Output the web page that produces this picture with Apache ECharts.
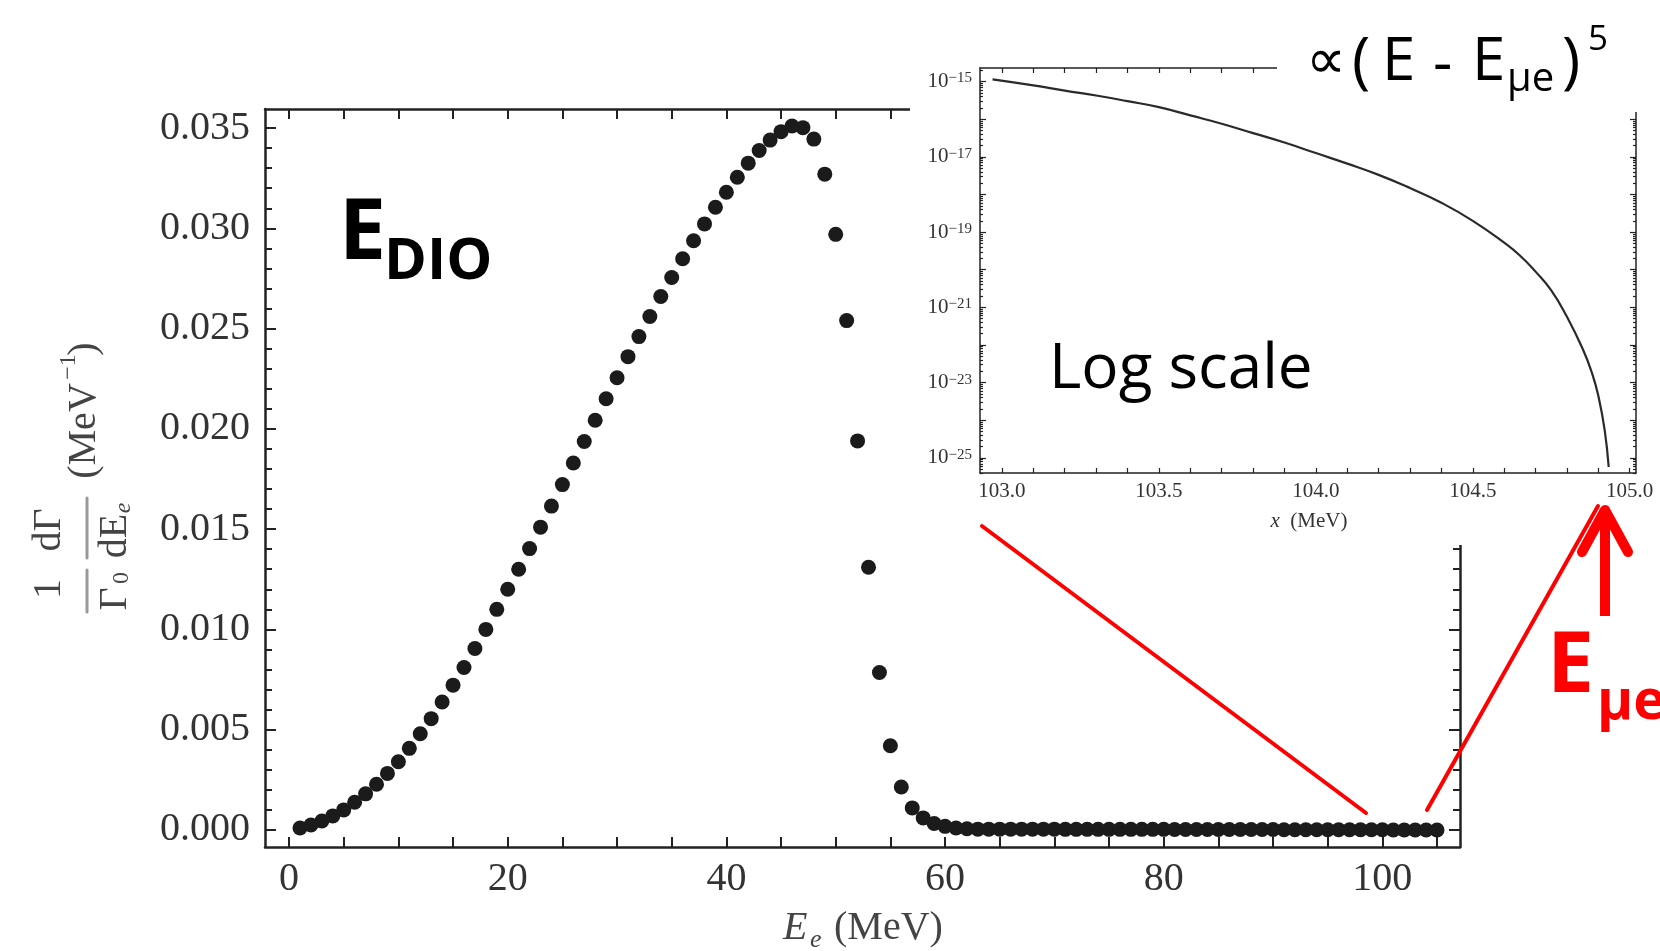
<!DOCTYPE html>
<html>
<head>
<meta charset="utf-8">
<title>DIO spectrum</title>
<script src="https://cdn.jsdelivr.net/npm/echarts@6.0.0/dist/echarts.min.js"></script>
<style>
  html, body { margin: 0; padding: 0; background: #fff; }
  #chart { width: 1660px; height: 951px; }
</style>
</head>
<body>
<div id="chart"></div>
<script>
// ---- main plot: electron energy (MeV) vs 1/Γ0 dΓ/dE (MeV^-1) ----
var energy = [
  1, 2, 3, 4, 5, 6, 7, 8, 9, 10, 11, 12, 13, 14, 15, 16, 17, 18, 19, 20,
  21, 22, 23, 24, 25, 26, 27, 28, 29, 30, 31, 32, 33, 34, 35, 36, 37, 38, 39, 40,
  41, 42, 43, 44, 45, 46, 47, 48, 49, 50, 51, 52, 53, 54, 55, 56, 57, 58, 59, 60,
  61, 62, 63, 64, 65, 66, 67, 68, 69, 70, 71, 72, 73, 74, 75, 76, 77, 78, 79, 80,
  81, 82, 83, 84, 85, 86, 87, 88, 89, 90, 91, 92, 93, 94, 95, 96, 97, 98, 99, 100,
  101, 102, 103, 104, 105
];
var rate = [
  0.00010, 0.00025, 0.00045, 0.00070, 0.00100, 0.00138, 0.00180, 0.00228, 0.00282, 0.00340,
  0.00407, 0.00480, 0.00555, 0.00638, 0.00722, 0.00810, 0.00905, 0.01000, 0.01100, 0.01200,
  0.01300, 0.01403, 0.01510, 0.01615, 0.01722, 0.01830, 0.01937, 0.02043, 0.02150, 0.02255,
  0.02360, 0.02460, 0.02560, 0.02660, 0.02755, 0.02848, 0.02938, 0.03022, 0.03105, 0.03180,
  0.03255, 0.03325, 0.03388, 0.03440, 0.03482, 0.03510, 0.03502, 0.03445, 0.03270, 0.02970,
  0.02540, 0.01940, 0.01310, 0.00785, 0.00420, 0.00214, 0.00110, 0.00060, 0.00032, 0.00018,
  0.00010, 0.00006, 0.00004, 0.00004, 0.00004, 0.00004, 0.00004, 0.00004, 0.00004, 0.00004,
  0.00003, 0.00003, 0.00003, 0.00003, 0.00003, 0.00003, 0.00003, 0.00003, 0.00003, 0.00003,
  0.00002, 0.00002, 0.00002, 0.00002, 0.00002, 0.00002, 0.00002, 0.00002, 0.00002, 0.00002,
  0.00001, 0.00001, 0.00001, 0.00001, 0.00001, 0.00001, 0.00001, 0.00001, 0.00001, 0.00001,
  0, 0, 0, 0, 0
];
var mainXTicks = [0, 20, 40, 60, 80, 100];
var mainYTicks = [0, 0.005, 0.010, 0.015, 0.020, 0.025, 0.030, 0.035];

// ---- inset: end point region, log10 of the rate ----
var insetX = [102.97, 103.1, 103.2, 103.3, 103.4, 103.5, 103.6, 103.7, 103.8, 103.9,
  104.0, 104.1, 104.2, 104.3, 104.4, 104.5, 104.6, 104.65, 104.7, 104.75,
  104.8, 104.85, 104.88, 104.9, 104.92, 104.933];
var insetLogY = [-14.94, -15.10, -15.24, -15.37, -15.52, -15.68, -15.90, -16.12, -16.37, -16.62,
  -16.90, -17.18, -17.48, -17.83, -18.22, -18.70, -19.28, -19.62, -20.05, -20.55,
  -21.25, -22.10, -22.75, -23.35, -24.25, -25.24];
var insetXTicks = [103.0, 103.5, 104.0, 104.5, 105.0];
var insetYTicks = [-25, -23, -21, -19, -17, -15];

var LINE = '#222';
var TXT = '#333';
var SERIF = '"Liberation Serif", "Times New Roman", serif';
var SANS = '"Open Sans", "Noto Sans", sans-serif';

// evenly spaced tick marks (only for the little frame ticks)
function range(a, b, step) {
  var out = [];
  for (var v = a; v <= b + step / 2; v += step) out.push(Math.round(v * 1e6) / 1e6);
  return out;
}

// log minor ticks: 2..9 x 10^n
var insetMinor = [];
for (var n = -26; n <= -15; n++) {
  for (var k = 2; k <= 9; k++) {
    var p = n + Math.log10(k);
    if (p > -25.40 && p < -14.64) insetMinor.push(p);
  }
}

// one frame side: line + inner ticks, labels off unless given
function side(o, ticks, len, width, label) {
  var a = {
    type: 'value',
    gridIndex: o.grid,
    position: o.pos,
    min: o.min,
    max: o.max,
    z: o.z || 0,
    axisLine: { show: o.line !== false, onZero: false, lineStyle: { color: LINE, width: width } },
    axisTick: { show: true, inside: true, length: len, customValues: ticks,
                lineStyle: { color: LINE, width: width * 0.8 } },
    axisLabel: { show: false },
    splitLine: { show: false }
  };
  if (label) a.axisLabel = label;
  return a;
}

var mainX = { grid: 0, min: -2.2, max: 107.1 };
var mainY = { grid: 0, min: -0.00085, max: 0.03595 };
var insX = { grid: 1, min: 102.93, max: 105.02, z: 10 };
var insY = { grid: 1, min: -25.40, max: -14.64, z: 10 };

function at(o, extra) { return Object.assign({}, o, extra); }

var xAxes = [
  side(at(mainX, { pos: 'bottom' }), range(0, 105, 5), 10, 2.5, {
    show: true, customValues: mainXTicks, margin: 12,
    color: TXT, fontFamily: SERIF, fontSize: 40
  }),
  side(at(mainX, { pos: 'top' }), range(0, 105, 5), 10, 2.5),
  side(at(insX, { pos: 'bottom' }), range(103, 105, 0.1), 5, 1.5, {
    show: true, customValues: insetXTicks, margin: 8,
    color: TXT, fontFamily: SERIF, fontSize: 21,
    formatter: function (v) { return v.toFixed(1); }
  }),
  side(at(insX, { pos: 'top' }), range(103, 105, 0.1), 5, 1.5)
];

var yAxes = [
  side(at(mainY, { pos: 'left' }), mainYTicks, 11, 2.5, {
    show: true, customValues: mainYTicks, margin: 15,
    color: TXT, fontFamily: SERIF, fontSize: 40,
    formatter: function (v) { return v.toFixed(3); }
  }),
  side(at(mainY, { pos: 'left', line: false }), range(0, 0.035, 0.001), 7, 2.5),
  side(at(mainY, { pos: 'right' }), mainYTicks, 11, 2.5),
  side(at(mainY, { pos: 'right', line: false }), range(0, 0.035, 0.001), 7, 2.5),
  side(at(insY, { pos: 'left' }), range(-25, -15, 1), 6, 1.5, {
    show: true, customValues: insetYTicks, margin: 8,
    color: TXT, fontFamily: SERIF, fontSize: 21,
    formatter: function (v) { return '10{s|−' + (-v) + '}'; },
    rich: { s: { fontSize: 15, fontFamily: SERIF, color: TXT, verticalAlign: 'top' } }
  }),
  side(at(insY, { pos: 'left', line: false }), insetMinor, 3, 1.5),
  side(at(insY, { pos: 'right' }), range(-25, -15, 1), 6, 1.5),
  side(at(insY, { pos: 'right', line: false }), insetMinor, 3, 1.5)
];

function txt(x, y, text, size, opts) {
  opts = opts || {};
  return {
    type: 'text', x: x, y: y, z: opts.z || 20, rotation: opts.rot || 0,
    style: {
      text: text, fontSize: size,
      fontFamily: opts.family || SANS,
      fontWeight: opts.weight || 'normal',
      fontStyle: opts.style || 'normal',
      fill: opts.fill || '#000',
      align: opts.align || 'left',
      verticalAlign: 'middle',
      rich: opts.rich
    }
  };
}
function seg(x1, y1, x2, y2, color, w, z) {
  return { type: 'line', z: z || 20, shape: { x1: x1, y1: y1, x2: x2, y2: y2 },
           style: { stroke: color, lineWidth: w, lineCap: 'round' } };
}

var ROT = Math.PI / 2;
var NAME = '#444';
var RED = '#ff0000';

var graphics = [
  // white panel under the inset
  { type: 'rect', z: 5, shape: { x: 910, y: 0, width: 750, height: 545 }, style: { fill: '#fff' } },
  // white box under the formula
  { type: 'rect', z: 15, shape: { x: 1277, y: 0, width: 383, height: 112 }, style: { fill: '#fff' } },

  // y axis name (rotated)
  txt(49, 589, '1', 40, { family: SERIF, fill: NAME, align: 'center', rot: ROT }),
  seg(87, 570, 87, 612, '#999', 3),
  txt(115, 599, 'Γ', 40, { family: SERIF, fill: NAME, align: 'center', rot: ROT }),
  txt(122, 578, '0', 24, { family: SERIF, fill: NAME, align: 'center', rot: ROT }),
  txt(49, 530, 'dΓ', 40, { family: SERIF, fill: NAME, align: 'center', rot: ROT }),
  seg(87, 498, 87, 558, '#999', 3),
  txt(115, 536, 'dE', 40, { family: SERIF, fill: NAME, align: 'center', rot: ROT }),
  txt(124, 508, 'e', 24, { family: SERIF, fill: NAME, style: 'italic', align: 'center', rot: ROT }),
  txt(84, 431, '(MeV', 40, { family: SERIF, fill: NAME, align: 'center', rot: ROT }),
  txt(69, 367, '−1', 24, { family: SERIF, fill: NAME, align: 'center', rot: ROT }),
  txt(84, 349, ')', 40, { family: SERIF, fill: NAME, align: 'center', rot: ROT }),

  // x axis name
  txt(783, 928, 'E', 40, { family: SERIF, fill: NAME, style: 'italic' }),
  txt(810, 940, 'e', 26, { family: SERIF, fill: NAME, style: 'italic' }),
  txt(834, 928, '(MeV)', 40, { family: SERIF, fill: NAME }),

  // inset x name
  txt(1309, 521, '{i|x}  (MeV)', 21, { family: SERIF, fill: TXT, align: 'center', z: 20,
    rich: { i: { fontStyle: 'italic', fontSize: 21, fontFamily: SERIF, fill: TXT } } }),

  // E_DIO label
  txt(339, 235, 'E', 84, { weight: 'bold' }),
  txt(384, 262, 'DIO', 58, { weight: 'bold' }),

  // Log scale label
  txt(1049, 370, 'Log scale', 62),

  // proportionality formula
  txt(1306, 62, '∝', 56),
  txt(1352, 64, '(', 62),
  txt(1382, 63, 'E', 60),
  txt(1433, 66, '-', 60),
  txt(1472, 63, 'E', 60),
  txt(1507, 80, 'μe', 40),
  txt(1562, 64, ')', 62),
  txt(1588, 40, '5', 35),

  // red zoom lines
  seg(982, 526, 1366, 813, RED, 4),
  seg(1598, 506, 1427, 810, RED, 4),

  // red arrow to E_μe
  { type: 'polyline', z: 20, shape: { points: [[1605, 616], [1605, 512]] },
    style: { stroke: RED, lineWidth: 10, lineCap: 'butt', fill: null } },
  { type: 'polyline', z: 20, shape: { points: [[1582, 552], [1605, 510], [1628, 552]] },
    style: { stroke: RED, lineWidth: 10, lineCap: 'round', lineJoin: 'round', fill: null } },
  txt(1547, 668, 'E', 84, { weight: 'bold', fill: RED }),
  txt(1597, 703, 'μe', 55, { weight: 'bold', fill: RED })
];

var chart = echarts.init(document.getElementById('chart'), null, { renderer: 'canvas' });
chart.setOption({
  animation: false,
  backgroundColor: '#fff',
  grid: [
    { left: 265, top: 109, width: 1195, height: 738, containLabel: false, outerBoundsMode: 'none' },
    { left: 980, top: 68, width: 656, height: 405, containLabel: false, outerBoundsMode: 'none', z: 10 }
  ],
  xAxis: xAxes,
  yAxis: yAxes,
  series: [
    {
      type: 'scatter',
      xAxisIndex: 0,
      yAxisIndex: 0,
      data: energy.map(function (e, i) { return [e, rate[i]]; }),
      symbolSize: 15,
      itemStyle: { color: '#1b1b1b', opacity: 1 },
      silent: true,
      z: 3
    },
    {
      type: 'line',
      xAxisIndex: 2,
      yAxisIndex: 4,
      data: insetX.map(function (x, i) { return [x, insetLogY[i]]; }),
      showSymbol: false,
      smooth: 0.5,
      lineStyle: { color: '#2a2a2a', width: 2.2 },
      silent: true,
      z: 10
    }
  ],
  graphic: graphics
});
</script>
</body>
</html>
